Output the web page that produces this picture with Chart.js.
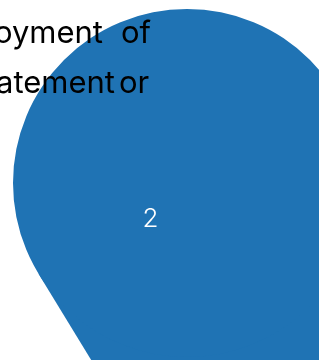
<!DOCTYPE html>
<html>
<head>
<meta charset="utf-8">
<script src="https://cdn.jsdelivr.net/npm/chart.js@4"></script>
<style>
  html, body { margin: 0; padding: 0; background: #fff; overflow: hidden; }
  #wrap { position: absolute; left: 0; top: 0; width: 400px; height: 400px; }
</style>
</head>
<body>
<div id="wrap"><canvas id="step-chart"></canvas></div>
<script>
// data
const stepLabels = ['2'];
const stepValues = [1];
const textLines = [
  ['oyment', 'of'],
  ['atement', 'or']
];

const blue = '#1f73b4';

// tail of the pin, drawn under the pie slice
const pinTail = {
  id: 'pinTail',
  beforeDatasetsDraw(chart) {
    const arc = chart.getDatasetMeta(0).data[0];
    if (!arc) return;
    const { x, y, outerRadius: r } = arc.getProps(['x', 'y', 'outerRadius'], true);
    const half = 20 * Math.PI / 180;
    const dir = 78.6 * Math.PI / 180;
    const d = r / Math.sin(half);
    const t = Math.PI / 2 - half;
    const ctx = chart.ctx;
    ctx.save();
    ctx.fillStyle = blue;
    ctx.beginPath();
    ctx.moveTo(x + r * Math.cos(dir + t), y + r * Math.sin(dir + t));
    ctx.lineTo(x + d * Math.cos(dir), y + d * Math.sin(dir));
    ctx.lineTo(x + r * Math.cos(dir - t), y + r * Math.sin(dir - t));
    ctx.lineTo(x, y);
    ctx.closePath();
    ctx.fill();
    ctx.restore();
  }
};

// step number + the clipped caption text
const labelsPlugin = {
  id: 'labelsPlugin',
  afterDraw(chart) {
    const arc = chart.getDatasetMeta(0).data[0];
    const { x, y, outerRadius: r } = arc.getProps(['x', 'y', 'outerRadius'], true);
    const ctx = chart.ctx;
    ctx.save();
    ctx.fillStyle = '#fff';
    ctx.font = '300 26px Inter';
    ctx.textAlign = 'center';
    ctx.textBaseline = 'alphabetic';
    ctx.fillText(stepLabels[0], x - 0.21 * r, y + 0.25 * r);

    ctx.fillStyle = '#000';
    ctx.font = '400 31px Inter';
    const rightEdges = [103, 115];
    const leftStarts = [121, 119];
    const baselines = [43, 93];
    textLines.forEach((words, i) => {
      ctx.textAlign = 'right';
      ctx.fillText(words[0], rightEdges[i], baselines[i]);
      ctx.textAlign = 'left';
      ctx.fillText(words[1], leftStarts[i], baselines[i]);
    });
    ctx.restore();
  }
};

new Chart(document.getElementById('step-chart'), {
  type: 'pie',
  data: {
    labels: stepLabels,
    datasets: [{
      data: stepValues,
      backgroundColor: [blue],
      borderWidth: 0
    }]
  },
  options: {
    responsive: true,
    maintainAspectRatio: false,
    animation: false,
    layout: { padding: { left: 13, top: 9, right: 39, bottom: 43 } },
    plugins: {
      legend: { display: false },
      tooltip: { enabled: false }
    }
  },
  plugins: [pinTail, labelsPlugin]
});
</script>
</body>
</html>
